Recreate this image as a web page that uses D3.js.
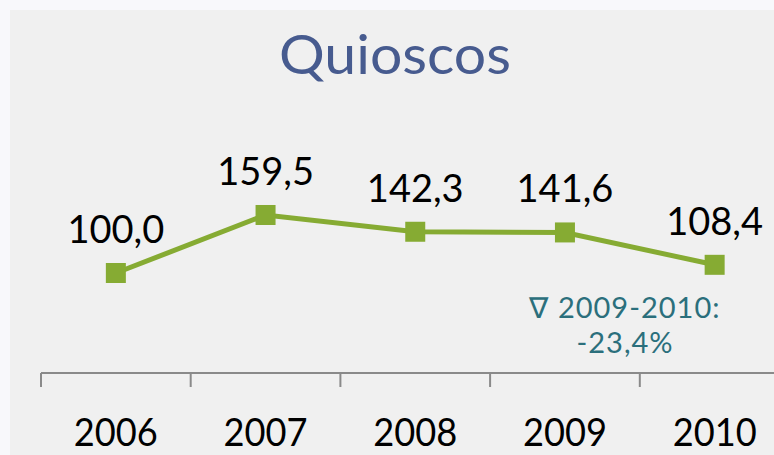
<!DOCTYPE html>
<html>
<head>
<meta charset="utf-8">
<script src="https://cdn.jsdelivr.net/npm/d3@7"></script>
<style>
  html, body { margin: 0; padding: 0; background: #f8f8fb; }
  svg { display: block; }
</style>
</head>
<body>
<div class="viz"></div>
<script>
const years = ["2006", "2007", "2008", "2009", "2010"];
const values = [100.0, 159.5, 142.3, 141.6, 108.4];
const valueLabels = ["100,0", "159,5", "142,3", "141,6", "108,4"];
const chartTitle = "Quioscos";
const noteLines = ["\u2207 2009-2010:", "-23,4%"];

const width = 774;
const height = 455;

const svg = d3.select(".viz")
    .append("svg")
    .attr("width", width)
    .attr("height", height);

// gray panel
svg.append("rect")
    .attr("x", 10)
    .attr("y", 10)
    .attr("width", width - 10)
    .attr("height", height - 10)
    .attr("fill", "#f0f0f0");

const x = d3.scaleBand()
    .domain(years)
    .range([41, 789.5]);

const y = d3.scaleLinear()
    .domain([0, 180])
    .range([370.5, 195]);

const font = "Lato, 'Open Sans', sans-serif";

// title
svg.append("text")
    .attr("x", 395)
    .attr("y", 74)
    .attr("text-anchor", "middle")
    .attr("textLength", 232)
    .attr("lengthAdjust", "spacingAndGlyphs")
    .style("font-family", font)
    .style("font-size", "55px")
    .style("fill", "#475b8f")
    .text(chartTitle);

// axis
const axis = d3.axisBottom(x).tickSize(0).tickFormat("");
const gAxis = svg.append("g")
    .attr("transform", "translate(0,373)")
    .call(axis);
gAxis.select(".domain").remove();
gAxis.append("line")
    .attr("x1", 41).attr("x2", 789.5)
    .attr("stroke", "#8a8a8a").attr("stroke-width", 2);
gAxis.selectAll(".sep")
    .data(years)
    .enter()
    .append("line")
    .attr("class", "sep")
    .attr("x1", d => x(d)).attr("x2", d => x(d))
    .attr("y1", 0).attr("y2", 14)
    .attr("stroke", "#8a8a8a").attr("stroke-width", 2);

// year labels
svg.selectAll(".year")
    .data(years)
    .enter()
    .append("text")
    .attr("class", "year")
    .attr("x", d => x(d) + x.bandwidth() / 2)
    .attr("y", 446)
    .attr("text-anchor", "middle")
    .attr("textLength", 84)
    .attr("lengthAdjust", "spacingAndGlyphs")
    .style("font-family", font)
    .style("font-size", "39px")
    .style("fill", "#000")
    .text(d => d);

// line
const line = d3.line()
    .x((d, i) => x(years[i]) + x.bandwidth() / 2)
    .y(d => y(d));

svg.append("path")
    .datum(values)
    .attr("d", line)
    .attr("fill", "none")
    .attr("stroke", "#86ab33")
    .attr("stroke-width", 5);

svg.selectAll(".marker")
    .data(values)
    .enter()
    .append("rect")
    .attr("class", "marker")
    .attr("x", (d, i) => x(years[i]) + x.bandwidth() / 2 - 10)
    .attr("y", d => y(d) - 10)
    .attr("width", 20)
    .attr("height", 20)
    .attr("fill", "#86ab33");

// value labels
svg.selectAll(".label")
    .data(values)
    .enter()
    .append("text")
    .attr("class", "label")
    .attr("x", (d, i) => x(years[i]) + x.bandwidth() / 2)
    .attr("y", d => y(d) - 30)
    .attr("text-anchor", "middle")
    .style("font-family", font)
    .style("font-size", "38px")
    .style("fill", "#000")
    .text((d, i) => valueLabels[i]);

// note
svg.selectAll(".note")
    .data(noteLines)
    .enter()
    .append("text")
    .attr("class", "note")
    .attr("x", 625)
    .attr("y", (d, i) => 318 + i * 35)
    .attr("text-anchor", "middle")
    .style("font-family", font)
    .style("font-size", "29px")
    .style("letter-spacing", "1px")
    .style("fill", "#2b6f7c")
    .text(d => d);
</script>
</body>
</html>
